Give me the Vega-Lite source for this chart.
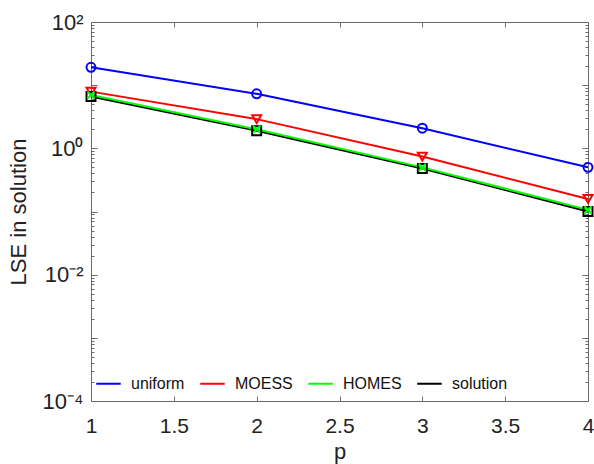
{
  "$schema": "https://vega.github.io/schema/vega-lite/v6.json",
  "autosize": "none",
  "width": 497,
  "height": 379,
  "padding": {"left": 91, "top": 22, "right": 6, "bottom": 63},
  "background": "white",
  "config": {
    "font": "Liberation Sans",
    "view": {"stroke": null},
    "axis": {
      "grid": false,
      "domainColor": "#6b6b6b",
      "tickColor": "#6b6b6b",
      "labelColor": "#222222",
      "titleColor": "#222222",
      "labelFont": "Liberation Sans",
      "titleFont": "Liberation Sans",
      "labelFontSize": 21,
      "titleFontSize": 22,
      "titleFontWeight": "normal",
      "domainWidth": 1,
      "tickWidth": 1
    }
  },
  "data": {
    "values": [
      {"p": 1, "LSE": 19.2, "method": "uniform"},
      {"p": 2, "LSE": 7.3, "method": "uniform"},
      {"p": 3, "LSE": 2.08, "method": "uniform"},
      {"p": 4, "LSE": 0.5, "method": "uniform"},
      {"p": 1, "LSE": 7.9, "method": "MOESS"},
      {"p": 2, "LSE": 2.9, "method": "MOESS"},
      {"p": 3, "LSE": 0.74, "method": "MOESS"},
      {"p": 4, "LSE": 0.158, "method": "MOESS"},
      {"p": 1, "LSE": 6.6, "method": "solution"},
      {"p": 2, "LSE": 1.9, "method": "solution"},
      {"p": 3, "LSE": 0.48, "method": "solution"},
      {"p": 4, "LSE": 0.1, "method": "solution"},
      {"p": 1, "LSE": 7.0, "method": "HOMES"},
      {"p": 2, "LSE": 2.0, "method": "HOMES"},
      {"p": 3, "LSE": 0.5, "method": "HOMES"},
      {"p": 4, "LSE": 0.106, "method": "HOMES"}
    ]
  },
  "encoding": {
    "x": {"field": "p", "type": "quantitative", "scale": {"domain": [1, 4], "nice": false, "zero": false}},
    "y": {"field": "LSE", "type": "quantitative", "scale": {"type": "log", "domain": [0.0001, 100], "nice": false}}
  },
  "layer": [
    {
      "mark": {"type": "line", "strokeWidth": 2},
      "encoding": {
        "x": {"field": "p", "type": "quantitative", "title": "p",
          "axis": {"orient": "bottom", "values": [1, 1.5, 2, 2.5, 3, 3.5, 4], "format": "~g", "tickSize": -5, "labelPadding": 19, "titlePadding": 5, "labelFlush": false}},
        "y": {"field": "LSE", "type": "quantitative", "title": "LSE in solution",
          "axis": {"orient": "left",
            "values": [0.0001,0.0002,0.0003,0.0004,0.0005,0.0006,0.0007,0.0008,0.0009,0.001,0.002,0.003,0.004,0.005,0.006,0.007,0.008,0.009,0.01,0.02,0.03,0.04,0.05,0.06,0.07,0.08,0.09,0.1,0.2,0.3,0.4,0.5,0.6,0.7,0.8,0.9,1,2,3,4,5,6,7,8,9,10,20,30,40,50,60,70,80,90,100],
            "labelExpr": "datum.value == 100 ? '10²' : datum.value == 1 ? '10⁰' : datum.value == 0.01 ? '10⁻²' : datum.value == 0.0001 ? '10⁻⁴' : ''",
            "labelOverlap": false,
            "labelFontSize": 22,
            "labelPadding": 14,
            "titlePadding": 12,
            "tickSize": {"condition": {"test": "indexof([0.0001,0.001,0.01,0.1,1,10,100], datum.value) >= 0", "value": -6}, "value": -3}
          }},
        "color": {"field": "method", "type": "nominal",
          "scale": {"domain": ["uniform", "MOESS", "HOMES", "solution"], "range": ["#0000ff", "#ff0000", "#00ff00", "#000000"]},
          "legend": {
            "orient": "none", "legendX": 4, "legendY": 348,
            "direction": "horizontal", "title": null,
            "symbolType": "stroke", "symbolStrokeWidth": 2, "symbolSize": 600,
            "labelFontSize": 16, "labelFont": "Liberation Sans", "labelColor": "#111111",
            "labelOffset": 9, "columnPadding": 11
          }}
      }
    },
    {
      "mark": {"type": "point", "filled": false, "strokeWidth": 2, "size": 80, "opacity": 1},
      "encoding": {
        "x": {"field": "p", "type": "quantitative",
          "axis": {"orient": "top", "labels": false, "title": null, "values": [1, 1.5, 2, 2.5, 3, 3.5, 4], "tickSize": -5}},
        "y": {"field": "LSE", "type": "quantitative",
          "axis": {"orient": "right", "labels": false, "title": null,
            "values": [0.0001,0.0002,0.0003,0.0004,0.0005,0.0006,0.0007,0.0008,0.0009,0.001,0.002,0.003,0.004,0.005,0.006,0.007,0.008,0.009,0.01,0.02,0.03,0.04,0.05,0.06,0.07,0.08,0.09,0.1,0.2,0.3,0.4,0.5,0.6,0.7,0.8,0.9,1,2,3,4,5,6,7,8,9,10,20,30,40,50,60,70,80,90,100],
            "tickSize": {"condition": {"test": "indexof([0.0001,0.001,0.01,0.1,1,10,100], datum.value) >= 0", "value": -6}, "value": -3}
          }},
        "shape": {
          "condition": [
            {"test": "datum.method == 'uniform'", "value": "circle"},
            {"test": "datum.method == 'MOESS'", "value": "triangle-down"},
            {"test": "datum.method == 'HOMES'", "value": "M-0.8,-0.8L0.8,0.8M0.8,-0.8L-0.8,0.8"}
          ],
          "value": "square"
        },
        "stroke": {
          "condition": [
            {"test": "datum.method == 'uniform'", "value": "#0000ff"},
            {"test": "datum.method == 'MOESS'", "value": "#ff0000"},
            {"test": "datum.method == 'HOMES'", "value": "#00ff00"}
          ],
          "value": "#000000"
        }
      }
    }
  ],
  "resolve": {"axis": {"x": "independent", "y": "independent"}}
}
